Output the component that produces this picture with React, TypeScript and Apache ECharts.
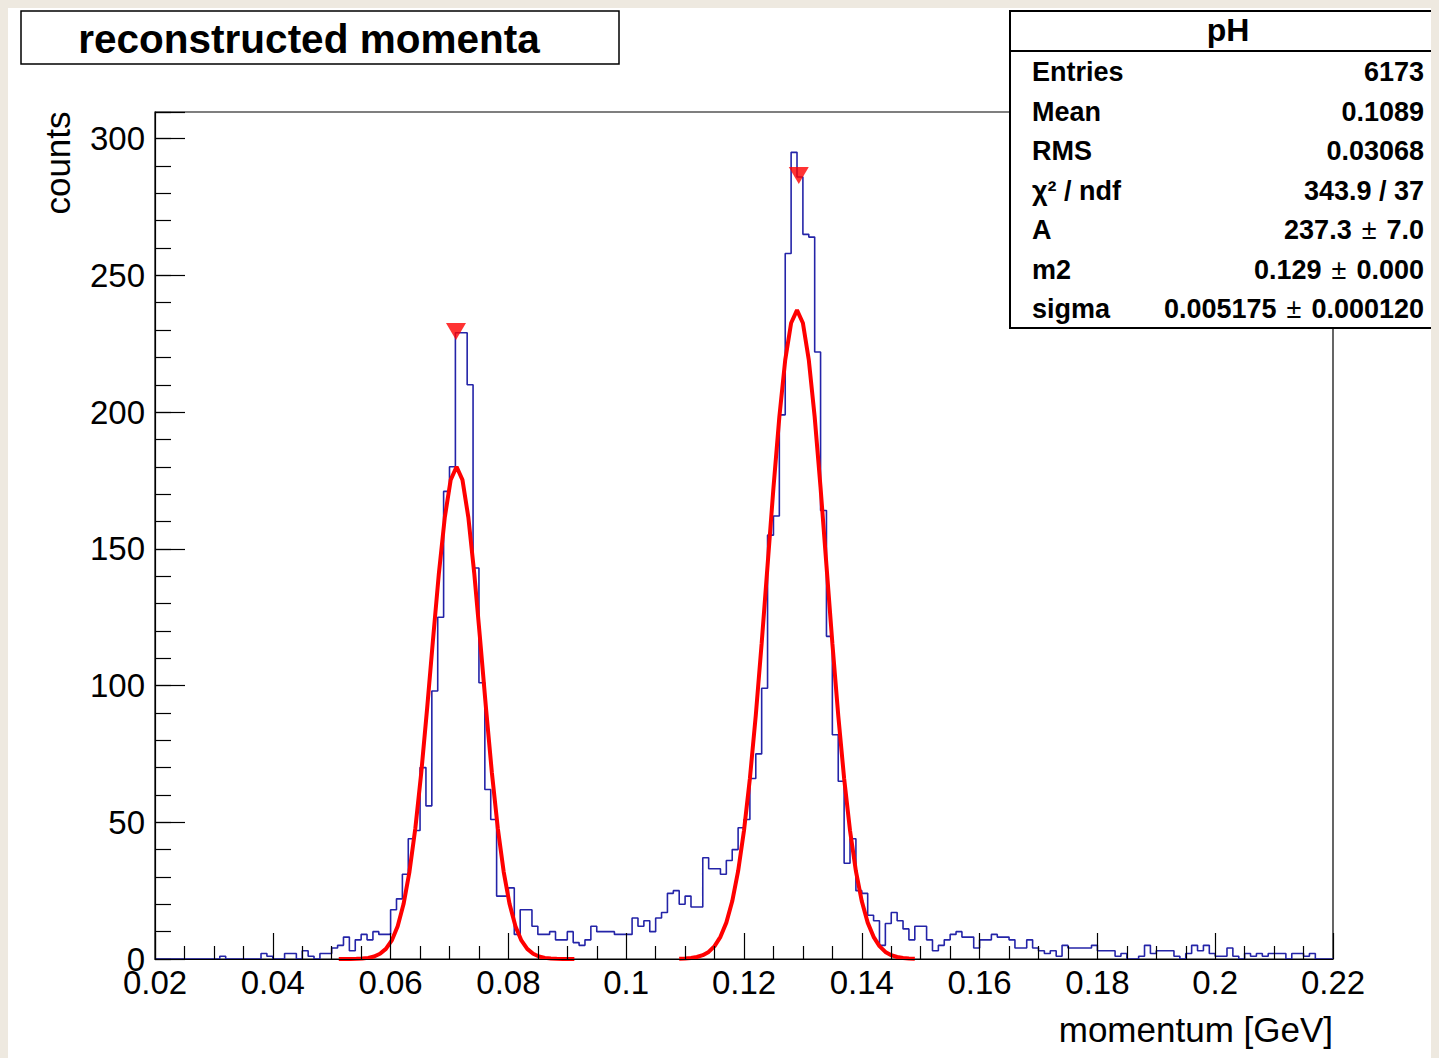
import React, { useEffect, useRef } from "react";
import * as echarts from "echarts";

// ---- histogram: 200 bins of 0.001 GeV from 0.02 to 0.22 ----
const BIN_LOW = 0.02;
const BIN_WIDTH = 0.001;
const counts = [
  0, 0, 0, 0, 0, 0, 0, 0, 0, 0,
  0, 1, 0, 0, 0, 0, 0, 0, 2, 1,
  0, 0, 2, 2, 0, 3, 1, 0, 2, 2,
  4, 5, 8, 3, 7, 9, 7, 10, 9, 9,
  18, 22, 31, 44, 47, 70, 56, 98, 125, 171,
  180, 229, 229, 210, 143, 101, 62, 51, 23, 23,
  26, 9, 18, 18, 12, 9, 9, 10, 7, 7,
  10, 6, 5, 7, 12, 10, 10, 10, 9, 9,
  9, 15, 12, 14, 10, 15, 17, 24, 25, 20,
  23, 19, 19, 37, 33, 33, 31, 36, 40, 48,
  51, 66, 75, 99, 155, 162, 199, 258, 295, 286,
  265, 264, 222, 164, 118, 82, 65, 35, 44, 25,
  24, 16, 14, 5, 13, 17, 14, 11, 7, 12,
  12, 7, 3, 5, 7, 9, 10, 8, 8, 4,
  7, 7, 9, 8, 8, 7, 4, 4, 7, 4,
  3, 2, 3, 1, 5, 4, 4, 4, 4, 5,
  3, 3, 3, 1, 2, 0, 0, 1, 5, 2,
  3, 3, 3, 1, 0, 2, 5, 3, 5, 2,
  1, 1, 4, 1, 0, 2, 1, 2, 1, 2,
  2, 2, 0, 2, 2, 1, 2, 0, 0, 0,
];

// ---- fit curves at 0.001 GeV steps ----
const FIT_STEP = 0.001;
const fit1Start = 0.0512;
const fit1 = [
  0, 0.01, 0.03, 0.07, 0.18, 0.41, 0.9, 1.9, 3.7, 6.8, 12.0, 20.1, 31.9, 47.8, 68.0, 91.6,
  116.8, 141.1, 161.5, 175.2, 180, 175.2, 161.5, 141.1, 116.8, 91.6, 68.0, 47.8, 31.9,
  20.1, 12.0, 6.8, 3.7, 1.9, 0.9, 0.41, 0.18, 0.07, 0.03, 0.01, 0,
];
const fit2Start = 0.109;
const fit2 = [
  0.08, 0.17, 0.36, 0.73, 1.4, 2.6, 4.7, 8.1, 13.3, 21.1, 32.1, 47.0, 66.0, 89.1, 115.5,
  143.9, 172.3, 198.2, 219.1, 232.6, 237.3, 232.6, 219.1, 198.2, 172.3, 143.9, 115.5, 89.1,
  66.0, 47.0, 32.1, 21.1, 13.3, 8.1, 4.7, 2.6, 1.4, 0.73, 0.36, 0.17, 0.08,
];

// ---- peak markers ----
const peakX = [0.0711, 0.1293];
const peakY = [229.5, 286.5];

// ---- axes ----
const X_MIN = 0.02;
const X_MAX = 0.22;
const X_INTERVAL = 0.02;
const Y_MIN = 0;
const Y_MAX = 309.75;
const Y_INTERVAL = 50;
const Y_MINOR_INTERVAL = 10;
const Y_LAST_LABEL = 300;

// ---- texts ----
const titleText = "reconstructed momenta";
const xTitle = "momentum [GeV]";
const yTitle = "counts";
const statsTitle = "pH";
const statsLabels = ["Entries", "Mean", "RMS", "χ² / ndf", "A", "m2", "sigma"];
const statsValues = [
  "6173",
  "0.1089",
  "0.03068",
  "343.9 / 37",
  "237.3 ± 7.0",
  "0.129 ± 0.000",
  "0.005175 ± 0.000120",
];

const FONT = "'Liberation Sans', Arial, Helvetica, sans-serif";

function richValue(v: string): string {
  const parts = v.split(" ± ");
  if (parts.length === 2) return `{b|${parts[0]}}{pm|±}{b|${parts[1]}}`;
  return `{b|${v}}`;
}

export default function App() {
  const ref = useRef<HTMLDivElement>(null);

  useEffect(() => {
    document.body.style.background = "#eee9e0";
    document.documentElement.style.overflow = "hidden";
    if (!ref.current) return;
    const chart = echarts.init(ref.current, undefined, { renderer: "svg" });

    const histData: number[][] = counts.map((c, i) => [
      +(BIN_LOW + i * BIN_WIDTH).toFixed(4),
      c,
    ]);
    histData.push([+(BIN_LOW + counts.length * BIN_WIDTH).toFixed(4), counts[counts.length - 1]]);

    const fit1Data = fit1.map((v, i) => [+(fit1Start + i * FIT_STEP).toFixed(4), v]);
    const fit2Data = fit2.map((v, i) => [+(fit2Start + i * FIT_STEP).toFixed(4), v]);
    const peakData = peakX.map((x, i) => [x, peakY[i]]);

    const rowGraphics: any[] = [];
    statsLabels.forEach((lab, i) => {
      const y = 64 + i * 39.5;
      rowGraphics.push({
        type: "text",
        z: 101,
        x: 1024,
        y,
        style: {
          text: lab,
          font: `bold 27px ${FONT}`,
          fill: "#000",
          align: "left",
          verticalAlign: "middle",
        },
      });
      rowGraphics.push({
        type: "text",
        z: 101,
        x: 1416,
        y,
        style: {
          text: richValue(statsValues[i]),
          fill: "#000",
          align: "right",
          verticalAlign: "middle",
          rich: {
            b: { font: `bold 27px ${FONT}`, fill: "#000" },
            pm: { font: `27px ${FONT}`, fill: "#000", padding: [0, 10, 0, 10] },
          },
        },
      });
    });

    chart.setOption({
      animation: false,
      backgroundColor: "#ffffff",
      grid: {
        left: 147,
        top: 104,
        right: 135,
        bottom: 99,
        show: true,
        borderColor: "#000",
        borderWidth: 1.2,
        backgroundColor: "transparent",
      },
      xAxis: {
        type: "value",
        min: X_MIN,
        max: X_MAX,
        interval: X_INTERVAL,
        z: 5,
        axisLine: { show: true, lineStyle: { color: "#000", width: 1.2 } },
        axisTick: { show: true, inside: true, length: 26, lineStyle: { color: "#000", width: 1.2 } },
        minorTick: { show: true, splitNumber: 4, length: 13, lineStyle: { color: "#000", width: 1.2 } },
        splitLine: { show: false },
        minorSplitLine: { show: false },
        axisLabel: {
          show: true,
          margin: 7,
          color: "#000",
          fontFamily: FONT,
          fontSize: 33,
          showMinLabel: true,
          showMaxLabel: true,
          formatter: (v: number) => String(parseFloat(v.toFixed(3))),
        },
      },
      yAxis: [
        {
          type: "value",
          min: Y_MIN,
          max: Y_MAX,
          interval: Y_INTERVAL,
          position: "left",
          z: 5,
          axisLine: { show: true, lineStyle: { color: "#000", width: 1.2 } },
          axisTick: { show: true, inside: true, length: 30, lineStyle: { color: "#000", width: 1.2 } },
          splitLine: { show: false },
          axisLabel: {
            show: true,
            margin: 10,
            color: "#000",
            fontFamily: FONT,
            fontSize: 33,
            formatter: (v: number) => (v > Y_LAST_LABEL + 0.5 ? "" : String(Math.round(v))),
          },
        },
        {
          type: "value",
          min: Y_MIN,
          max: Y_MAX,
          interval: Y_MINOR_INTERVAL,
          position: "left",
          z: 5,
          axisLine: { show: false },
          axisTick: { show: true, inside: true, length: 16, lineStyle: { color: "#000", width: 1.2 } },
          splitLine: { show: false },
          axisLabel: { show: false },
        },
      ],
      series: [
        {
          type: "line",
          name: "pH",
          data: histData,
          step: "end",
          showSymbol: false,
          symbol: "none",
          yAxisIndex: 0,
          lineStyle: { color: "#2424a8", width: 1.6 },
          z: 2,
        },
        {
          type: "line",
          name: "fit1",
          data: fit1Data,
          showSymbol: false,
          symbol: "none",
          yAxisIndex: 0,
          lineStyle: { color: "#ff0000", width: 4 },
          z: 3,
        },
        {
          type: "line",
          name: "fit2",
          data: fit2Data,
          showSymbol: false,
          symbol: "none",
          yAxisIndex: 0,
          lineStyle: { color: "#ff0000", width: 4 },
          z: 3,
        },
        {
          type: "scatter",
          name: "peaks",
          data: peakData,
          yAxisIndex: 0,
          symbol: "triangle",
          symbolRotate: 180,
          symbolSize: [20, 17],
          itemStyle: { color: "#ff0000" },
          z: 4,
        },
      ],
      graphic: [
        {
          type: "rect",
          z: 100,
          shape: { x: 13, y: 3, width: 598, height: 53 },
          style: { fill: "#fff", stroke: "#000", lineWidth: 1.5 },
        },
        {
          type: "text",
          z: 101,
          x: 301,
          y: 31,
          style: {
            text: titleText,
            font: `bold 40.5px ${FONT}`,
            fill: "#000",
            align: "center",
            verticalAlign: "middle",
          },
        },
        {
          type: "rect",
          z: 100,
          shape: { x: 1002, y: 3, width: 520, height: 317 },
          style: { fill: "#fff", stroke: "none" },
        },
        {
          type: "polyline",
          z: 101,
          shape: { points: [[1520, 3], [1002, 3], [1002, 320], [1520, 320]] },
          style: { stroke: "#000", lineWidth: 2, fill: "none" },
        },
        {
          type: "line",
          z: 101,
          shape: { x1: 1002, y1: 43, x2: 1520, y2: 43 },
          style: { stroke: "#000", lineWidth: 2 },
        },
        {
          type: "text",
          z: 101,
          x: 1220,
          y: 22,
          style: {
            text: statsTitle,
            font: `bold 32px ${FONT}`,
            fill: "#000",
            align: "center",
            verticalAlign: "middle",
          },
        },
        ...rowGraphics,
        {
          type: "text",
          z: 101,
          x: 1325,
          y: 1021,
          style: {
            text: xTitle,
            font: `35px ${FONT}`,
            fill: "#000",
            align: "right",
            verticalAlign: "middle",
          },
        },
        {
          type: "text",
          z: 101,
          x: 49,
          y: 155,
          rotation: Math.PI / 2,
          style: {
            text: yTitle,
            font: `35px ${FONT}`,
            fill: "#000",
            align: "center",
            verticalAlign: "middle",
          },
        },
      ],
    });

    return () => {
      chart.dispose();
    };
  }, []);

  return <div ref={ref} style={{ width: 1460, height: 1050, background: "#fff" }} />;
}
